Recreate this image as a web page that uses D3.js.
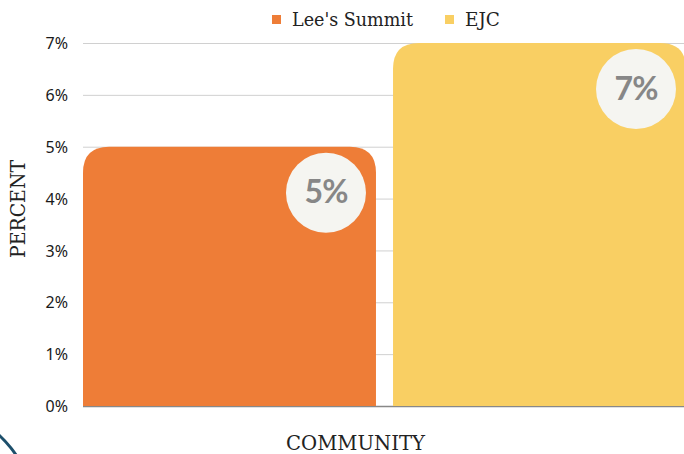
<!DOCTYPE html>
<html><head><meta charset="utf-8">
<script src="https://cdn.jsdelivr.net/npm/d3@7"></script>
<style>body{margin:0;background:#fff;overflow:hidden}</style>
</head><body>
<svg id="c" width="684" height="454"></svg>
<script>
const series = ["Lee's Summit", "EJC"];
const values = [5, 7];
const colors = ["#ee7d37", "#f9cf63"];
const yTicks = [0, 1, 2, 3, 4, 5, 6, 7];
const xTitle = "COMMUNITY";
const yTitle = "PERCENT";

const svg = d3.select("#c");
const serif = "'DejaVu Serif Condensed','DejaVu Serif',serif";
const x = d3.scaleBand().domain(series).range([83, 686]).paddingInner(0.055).paddingOuter(0);
const y = d3.scaleLinear().domain([0, 7]).range([406, 43]);

// gridlines
svg.append("g").selectAll("line").data(yTicks).join("line")
  .attr("x1", 83).attr("x2", 684)
  .attr("y1", d => y(d) + 0.5).attr("y2", d => y(d) + 0.5)
  .attr("stroke", "#d0d0d0").attr("stroke-width", 1);
// baseline
svg.append("line").attr("x1", 83).attr("x2", 684).attr("y1", y(0)+0.5).attr("y2", y(0)+0.5)
  .attr("stroke", "#888").attr("stroke-width", 1.5);

// y axis labels
const yAxis = d3.axisLeft(y).tickValues(yTicks).tickFormat(d => d + "%").tickSize(0).tickPadding(0);
const ga = svg.append("g").attr("transform", "translate(68,0)").call(yAxis);
ga.select(".domain").remove();
ga.selectAll("text").attr("font-family", "'Noto Sans',sans-serif").attr("font-weight", 400)
  .attr("font-size", 16).attr("fill", "#1a1a1a").attr("dy", "0.35em");

// bars with rounded top corners
const r = 26;
function barPath(x0, w, yt, yb) {
  return `M${x0},${yb}V${yt + r}Q${x0},${yt} ${x0 + r},${yt}H${x0 + w - r}Q${x0 + w},${yt} ${x0 + w},${yt + r}V${yb}Z`;
}
svg.append("g").selectAll("path").data(series).join("path")
  .attr("d", (d, i) => barPath(x(d), x.bandwidth(), y(values[i]), y(0)))
  .attr("fill", (d, i) => colors[i]);

// value badges
const badges = svg.append("g").selectAll("g").data(series).join("g")
  .attr("transform", (d, i) => `translate(${x(d) + x.bandwidth() - 50},${y(values[i]) + 46})`);
badges.append("circle").attr("r", 40).attr("fill", "#f5f5f1");
badges.append("text").text((d, i) => values[i] + "%")
  .attr("text-anchor", "middle").attr("y", -1).attr("dy", "0.36em")
  .attr("font-family", "Lato,sans-serif").attr("font-weight", 700).attr("font-size", 32)
  .attr("letter-spacing", -1).attr("fill", "#878787");

// legend
const leg = svg.append("g").attr("transform", "translate(272,19.5)");
const legX = [0, 173];
const li = leg.selectAll("g").data(series).join("g").attr("transform", (d, i) => `translate(${legX[i]},0)`);
li.append("rect").attr("width", 9).attr("height", 9).attr("y", -4.5).attr("fill", (d, i) => colors[i]);
li.append("text").text(d => d).attr("x", 20).attr("dy", "0.35em")
  .attr("font-family", serif).attr("font-size", 18).attr("fill", "#222")
  .attr("textLength", (d, i) => [121, 35][i]).attr("lengthAdjust", "spacingAndGlyphs");

// axis titles
svg.append("text").text(xTitle).attr("x", 355.5).attr("y", 450).attr("text-anchor", "middle")
  .attr("font-family", serif).attr("font-size", 20).attr("fill", "#222")
  .attr("textLength", 139).attr("lengthAdjust", "spacingAndGlyphs");
svg.append("text").text(yTitle).attr("transform", "translate(24.5,209) rotate(-90)").attr("text-anchor", "middle")
  .attr("font-family", serif).attr("font-size", 21).attr("fill", "#222")
  .attr("textLength", 98).attr("lengthAdjust", "spacingAndGlyphs");

// decorative arc
svg.append("path").attr("d", d3.arc()({innerRadius: 114.5, outerRadius: 117.5, startAngle: 0.5, endAngle: 1.3}))
  .attr("transform", "translate(-80,520)").attr("fill", "#1d4f6b");
</script>
</body></html>
